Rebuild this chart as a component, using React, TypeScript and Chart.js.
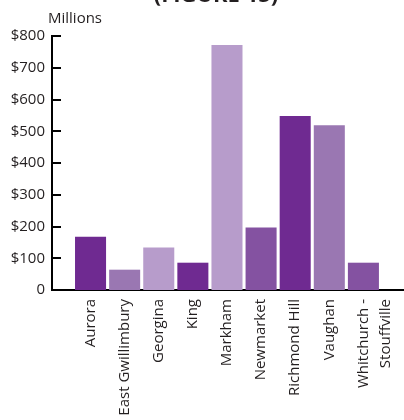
import React, { useEffect, useRef } from "react";
import { Chart, registerables } from "chart.js";

Chart.register(...registerables);

const categories: (string | string[])[] = [
  "Aurora",
  "East Gwillimbury",
  "Georgina",
  "King",
  "Markham",
  "Newmarket",
  "Richmond Hill",
  "Vaughan",
  ["Whitchurch -", "Stouffville"],
];
const values = [168, 64, 134, 86, 772, 197, 548, 519, 86];
const barColors = [
  "#6F2A91",
  "#9A77B2",
  "#B79CCB",
  "#6F2A91",
  "#B79CCB",
  "#8452A1",
  "#6F2A91",
  "#9A77B2",
  "#8452A1",
];
const yTickValues = [0, 100, 200, 300, 400, 500, 600, 700, 800];
const titleText = "(FIGURE 15)";
const unitText = "Millions";

const FONT = "'Open Sans', sans-serif";
const TEXT = "#231f20";

export default function App() {
  const ref = useRef<HTMLCanvasElement | null>(null);

  useEffect(() => {
    if (!ref.current) return;
    const overlay = {
      id: "overlay",
      afterDraw(chart: any) {
        const ctx = chart.ctx;
        const area = chart.chartArea;
        const y = chart.scales.y;
        ctx.save();
        ctx.fillStyle = TEXT;
        ctx.font = `bold 22px ${FONT}`;
        ctx.textAlign = "center";
        ctx.textBaseline = "alphabetic";
        ctx.fillText(titleText, 216, 2);
        ctx.font = `15px ${FONT}`;
        ctx.textAlign = "left";
        ctx.fillText(unitText, 48, 23);
        ctx.fillStyle = "#000";
        yTickValues.forEach((v) => {
          const py = Math.round(y.getPixelForValue(v));
          ctx.fillRect(area.left, py - 1, 9, 2);
        });
        ctx.restore();
      },
    };

    const chart = new Chart(ref.current, {
      type: "bar",
      data: {
        datasets: [
          {
            data: values.map((v, i) => ({ x: i, y: v })),
            backgroundColor: barColors,
            borderWidth: 0,
            barPercentage: 0.91,
            categoryPercentage: 1,
          },
        ],
      },
      options: {
        animation: false,
        responsive: false,
        devicePixelRatio: 1,
        layout: { padding: { top: 36, right: 0, left: 0, bottom: 0 } },
        plugins: {
          legend: { display: false },
          tooltip: { enabled: false },
        },
        scales: {
          x: {
            type: "linear",
            offset: false,
            min: -1.13,
            max: 9.19,
            grid: { display: false, drawTicks: false },
            border: { display: true, color: "#000", width: 2 },
            afterBuildTicks: (scale: any) => {
              scale.ticks = categories.map((_, i) => ({ value: i }));
            },
            afterFit: (scale: any) => {
              scale.height = 130;
              scale.paddingLeft = 0;
              scale.paddingRight = 0;
            },
            ticks: {
              autoSkip: false,
              minRotation: 90,
              maxRotation: 90,
              padding: 9,
              color: TEXT,
              font: { family: FONT, size: 15, lineHeight: 1.5 },
              callback: (v: any) => categories[Math.round(Number(v))] as any,
            },
          },
          y: {
            min: 0,
            max: 800,
            grid: { display: false, drawTicks: false },
            border: { display: true, color: "#000", width: 2 },
            afterFit: (scale: any) => {
              scale.width = 52;
            },
            afterBuildTicks: (scale: any) => {
              scale.ticks = yTickValues.map((v) => ({ value: v }));
            },
            ticks: {
              padding: 7,
              color: TEXT,
              font: { family: FONT, size: 15 },
              callback: (v: any) => (Number(v) === 0 ? "0" : "$" + v),
            },
          },
        },
      },
      plugins: [overlay],
    } as any);
    return () => chart.destroy();
  }, []);

  return (
    <div style={{ position: "absolute", left: 0, top: 0, width: 404, height: 420, background: "#fff" }}>
      <canvas ref={ref} width={404} height={420} style={{ display: "block" }} />
    </div>
  );
}
